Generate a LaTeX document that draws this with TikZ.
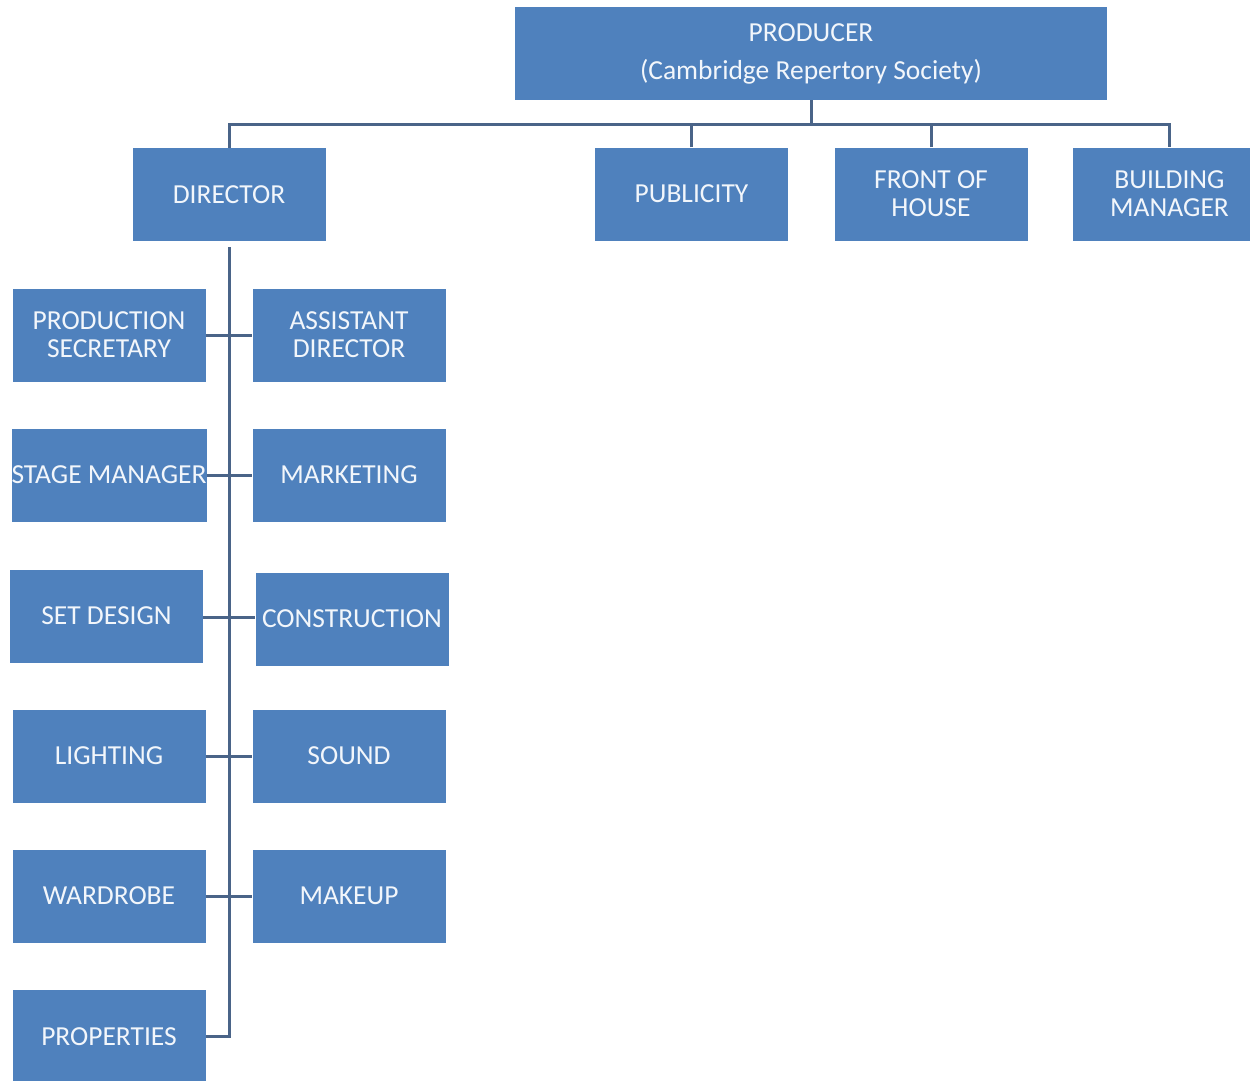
\documentclass[tikz,border=0pt]{standalone}
\usepackage{fontspec}
\setmainfont{Carlito}
\definecolor{boxblue}{HTML}{4F81BD}
\definecolor{linecol}{HTML}{4A6488}
\definecolor{txt}{HTML}{F2F6FB}
\begin{document}
\begin{tikzpicture}[x=1pt,y=-1pt,
  box/.style={fill=boxblue, draw=none, text=txt, minimum width=193pt, minimum height=93pt,
    inner sep=0pt, align=center, font=\fontsize{27.5}{28}\selectfont},
  conn/.style={draw=linecol, line width=3pt}]
\useasboundingbox (0,0) rectangle (1250,1081);
\begin{scope}
\clip (0,0) rectangle (1250,1081);
\node[box, minimum width=592pt, font=\fontsize{27.5}{38}\selectfont] (prod) at (811,53.5) {PRODUCER\\(Cambridge Repertory Society)};
\node[box] (dir) at (229,194.5) {DIRECTOR};
\node[box] (pub) at (691.5,194) {PUBLICITY};
\node[box] (foh) at (931,194) {FRONT OF\\HOUSE};
\node[box] (bm) at (1169.5,194) {BUILDING\\MANAGER};
\node[box] (ps) at (109,335) {PRODUCTION\\SECRETARY};
\node[box] (ad) at (349,335) {ASSISTANT\\DIRECTOR};
\node[box] (sm) at (109,475) {STAGE MANAGER};
\node[box] (mk) at (349,475) {MARKETING};
\node[box] (sd) at (106.5,616) {SET DESIGN};
\node[box] (con) at (352,619) {CONSTRUCTION};
\node[box] (lt) at (109,756) {LIGHTING};
\node[box] (snd) at (349,756) {SOUND};
\node[box] (wr) at (109,896) {WARDROBE};
\node[box] (mu) at (349,896) {MAKEUP};
\node[box] (pr) at (109,1036.5) {PROPERTIES};
\end{scope}
\coordinate (bus) at (811,124);
\draw[conn] (prod.south) -- (bus);
\draw[conn] (dir.north) -- (dir.north |- bus) -- (bm.north |- bus) -- (bm.north);
\draw[conn] (pub.north) -- (pub.north |- bus);
\draw[conn] (foh.north) -- (foh.north |- bus);
\draw[conn, shorten <=6pt] (dir.south) -- (dir.south |- pr.east) -- (pr.east);
\draw[conn] (ps.east) -- (ad.west);
\draw[conn] (sm.east) -- (mk.west);
\draw[conn] (sd.east |- 0,617) -- (con.west |- 0,617);
\draw[conn] (lt.east) -- (snd.west);
\draw[conn] (wr.east) -- (mu.west);
\end{tikzpicture}
\end{document}
